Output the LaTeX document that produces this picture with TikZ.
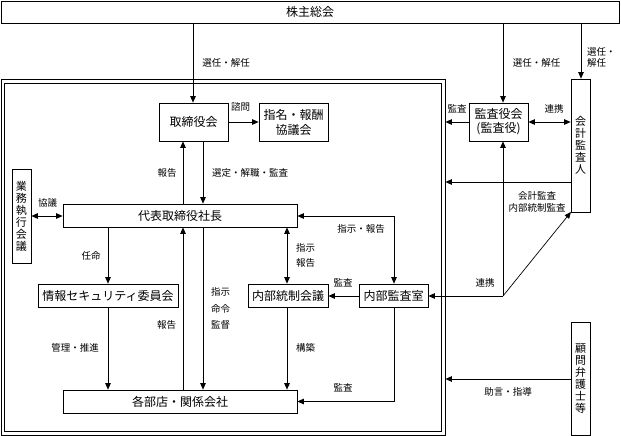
\documentclass[tikz,border=0pt]{standalone}
\usepackage{fontspec}
\setmainfont{Noto Sans CJK JP}
\usetikzlibrary{arrows.meta}
\tikzset{
  box/.style={draw, line width=0.7pt, inner sep=0pt, font=\fontsize{12}{15}\selectfont, align=center},
  vbox/.style={draw, line width=0.7pt, inner sep=0pt, font=\fontsize{11}{12}\selectfont, align=center},
  framebox/.style={draw, line width=0.7pt, inner sep=0pt},
  lbl/.style={inner sep=0pt, font=\fontsize{9.5}{12}\selectfont, align=center},
  arr/.style={line width=0.7pt, -{Triangle[length=6.5pt,width=5.5pt]}},
  darr/.style={line width=0.7pt, {Triangle[length=6.5pt,width=5.5pt]}-{Triangle[length=6.5pt,width=5.5pt]}},
  ln/.style={line width=0.7pt}
}
\begin{document}
\begin{tikzpicture}[x=1pt,y=-1pt]
\useasboundingbox (0,0) rectangle (621,436);
% frames
\node[framebox, minimum width=444, minimum height=356] (frame) at (223,257) {};
\node[framebox, minimum width=437, minimum height=348] (frameinner) at (222.5,257) {};
% boxes
\node[box, minimum width=618, minimum height=22] (kabu) at (310,12) {株主総会};
\node[box, minimum width=69, minimum height=38] (tori) at (193.5,122) {取締役会};
\node[box, minimum width=69, minimum height=38] (shimei) at (293.5,122) {指名・報酬\\協議会};
\node[box, minimum width=59, minimum height=38, font=\fontsize{12}{14}\selectfont] (kansa) at (498.5,122) {監査役会\\(監査役)};
\node[vbox, minimum width=19, minimum height=133] (kaikei) at (580.5,145.5) {会\\計\\監\\査\\人};
\node[vbox, minimum width=19, minimum height=94] (gyomu) at (21.5,216) {業\\務\\執\\行\\会\\議};
\node[box, minimum width=234, minimum height=23] (daihyo) at (180,215.5) {代表取締役社長};
\node[box, minimum width=140, minimum height=23] (joho) at (108,295.5) {情報セキュリティ委員会};
\node[box, minimum width=80, minimum height=23] (tosei) at (288,295.5) {内部統制会議};
\node[box, minimum width=69, minimum height=23] (naibu) at (393.5,295.5) {内部監査室};
\node[box, minimum width=234, minimum height=23] (kakubu) at (180,401.5) {各部店・関係会社};
\node[vbox, minimum width=19, minimum height=113] (komon) at (580.5,378.5) {顧\\問\\弁\\護\\士\\等};
% helper coordinates
\coordinate (xa) at (193,0);
\coordinate (xb) at (503,0);
\coordinate (xc) at (581,0);
\coordinate (x183) at (183,0);
\coordinate (x203) at (203,0);
\coordinate (x287) at (287,0);
\coordinate (x394) at (394,0);
\coordinate (y122) at (0,122);
\coordinate (y182) at (0,182);
\coordinate (y216) at (0,216);
\coordinate (y296) at (0,296);
\coordinate (y379) at (0,379);
\coordinate (J) at (503,296);
% connectors
\draw[arr] (kabu.south -| xa) -- (tori.north -| xa);
\draw[arr] (kabu.south -| xb) -- (kansa.north -| xb);
\draw[arr] (kabu.south -| xc) -- (kaikei.north -| xc);
\draw[arr] (tori.east |- y122) -- (shimei.west |- y122);
\draw[arr] (daihyo.north -| x183) -- (tori.south -| x183);
\draw[arr] (tori.south -| x203) -- (daihyo.north -| x203);
\draw[darr] (gyomu.east |- y216) -- (daihyo.west |- y216);
\draw[arr] (daihyo.south -| joho.north) -- (joho.north);
\draw[arr] (joho.south) -- (kakubu.north -| joho.south);
\draw[arr] (kakubu.north -| x183) -- (daihyo.south -| x183);
\draw[arr] (daihyo.south -| x203) -- (kakubu.north -| x203);
\draw[darr] (daihyo.south -| x287) -- (tosei.north -| x287);
\draw[arr] (tosei.south -| x287) -- (kakubu.north -| x287);
\draw[darr] (daihyo.east |- y216) -| (naibu.north -| x394);
\draw[arr] (naibu.west |- y296) -- (tosei.east |- y296);
\draw[arr] (naibu.south -| x394) |- (kakubu.east);
\draw[arr] (J) -- (naibu.east |- y296);
\draw[arr] (J) -- (kansa.south -| xb);
\draw[arr, shorten >=-0.5pt] (J) -- (kaikei.south west);
\draw[arr] (kansa.west |- y122) -- (frame.east |- y122);
\draw[darr] (kansa.east |- y122) -- (kaikei.west |- y122);
\draw[arr] (kaikei.west |- y182) -- (frame.east |- y182);
\draw[arr] (komon.west |- y379) -- (frame.east |- y379);
% labels
\node[lbl] (l1) at (226,63) {選任・解任};
\node[lbl] (l2) at (536.5,63) {選任・解任};
\node[lbl, align=left, anchor=west, font=\fontsize{9.5}{11}\selectfont] (l3) at (587,57.5) {選任・\\解任};
\node[lbl] (l4) at (240.5,107) {諮問};
\node[lbl] (l5) at (167,173) {報告};
\node[lbl] (l6) at (250,173) {選定・解職・監査};
\node[lbl] (l7) at (47.5,203) {協議};
\node[lbl] (l8) at (91,256) {任命};
\node[lbl] (l9) at (75,348) {管理・推進};
\node[lbl] (l10) at (166.5,325) {報告};
\node[lbl, font=\fontsize{9.5}{16.5}\selectfont] (l11) at (220.5,308.5) {指示\\命令\\監督};
\node[lbl, font=\fontsize{9.5}{15}\selectfont] (l12) at (305.5,255.5) {指示\\報告};
\node[lbl] (l13) at (305.5,348) {構築};
\node[lbl] (l14) at (361,229) {指示・報告};
\node[lbl] (l15) at (343,283) {監査};
\node[lbl] (l16) at (343,388) {監査};
\node[lbl] (l17) at (485,283) {連携};
\node[lbl] (l18) at (508,392) {助言・指導};
\node[lbl] (l19) at (457,109) {監査};
\node[lbl] (l20) at (554,109) {連携};
\node[lbl, font=\fontsize{9.5}{11.7}\selectfont] (l21) at (537,202) {会計監査\\内部統制監査};
\end{tikzpicture}
\end{document}
